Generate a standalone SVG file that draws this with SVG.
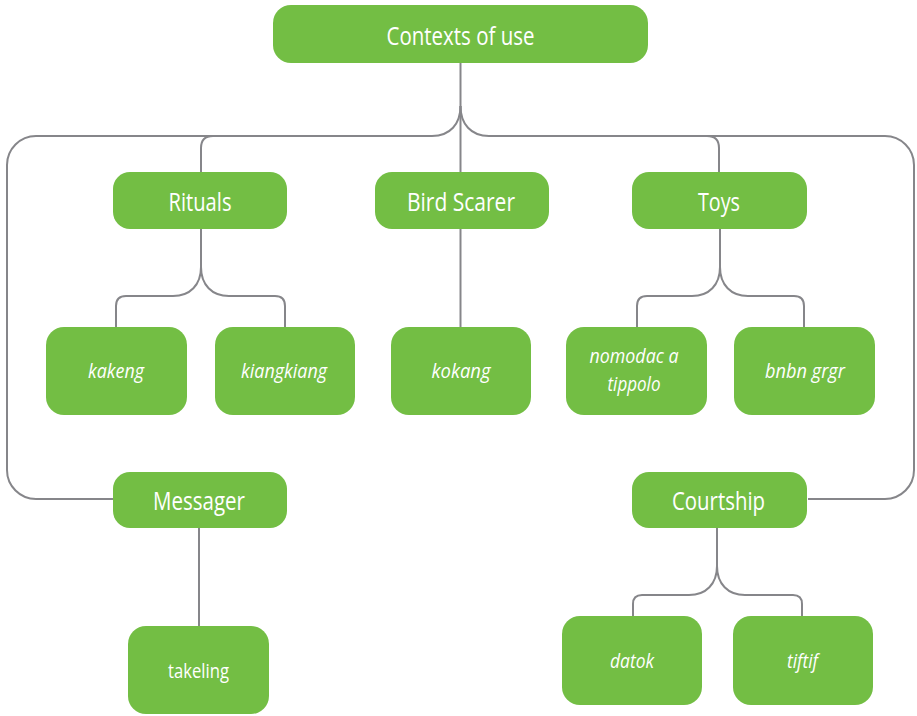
<svg xmlns="http://www.w3.org/2000/svg" width="917" height="716" viewBox="0 0 917 716">
  <style>
    .box { fill: #73BE44; }
    .lbl { fill: #ffffff; font-family: "Open Sans", "Liberation Sans", sans-serif; text-anchor: middle; }
    .main { font-size: 25.5px; }
    .leaf { font-size: 20px; font-style: italic; }
    .plain { font-size: 20px; }
    .wire { fill: none; stroke: #86868a; stroke-width: 2; }
  </style>
  <rect width="917" height="716" fill="#ffffff"/>

  <!-- connectors -->
  <g id="connectors" class="wire">
    <!-- root trunk and split -->
    <path d="M460.5,63 V172"/>
    <path d="M460.5,106 C460.5,124 450,136 432,136 H36 A29,29 0 0 0 7,165 V470 A29,29 0 0 0 36,499 H113"/>
    <path d="M460.5,106 C460.5,124 471,136 489,136 H885 A29,29 0 0 1 914,165 V470 A29,29 0 0 1 885,499 H808"/>
    <!-- branches off the main bar -->
    <path d="M213,136 Q201,136 201,148 V172"/>
    <path d="M707,136 Q719,136 719,148 V172"/>
    <!-- Rituals children -->
    <path d="M201,229 V267 C201,285 190,296 173,296 H126 Q116,296 116,306 V327"/>
    <path d="M201,267 C201,285 212,296 229,296 H275 Q285,296 285,306 V327"/>
    <!-- Bird Scarer child -->
    <path d="M460.5,229 V327"/>
    <!-- Toys children -->
    <path d="M720,229 V267 C720,285 709,296 692,296 H647 Q637,296 637,306 V327"/>
    <path d="M720,267 C720,285 731,296 748,296 H794 Q804,296 804,306 V327"/>
    <!-- Messager child -->
    <path d="M199,528 V626"/>
    <!-- Courtship children -->
    <path d="M717,528 V566 C717,584 706,595 689,595 H642 Q633,595 633,604 V616"/>
    <path d="M717,566 C717,584 728,595 745,595 H793 Q802,595 802,604 V616"/>
  </g>

  <g id="contexts">
    <rect class="box" x="273" y="5" width="375" height="58" rx="18"/>
    <text class="lbl main" x="460.5" y="45" textLength="148" lengthAdjust="spacingAndGlyphs">Contexts of use</text>
  </g>
  <g id="rituals">
    <rect class="box" x="113" y="172" width="174" height="57" rx="17"/>
    <text class="lbl main" x="200" y="210.5" textLength="63" lengthAdjust="spacingAndGlyphs">Rituals</text>
  </g>
  <g id="bird-scarer">
    <rect class="box" x="375" y="172" width="174" height="57" rx="17"/>
    <text class="lbl main" x="461" y="210.5" textLength="108" lengthAdjust="spacingAndGlyphs">Bird Scarer</text>
  </g>
  <g id="toys">
    <rect class="box" x="632" y="172" width="175" height="57" rx="17"/>
    <text class="lbl main" x="719" y="210.5" textLength="42" lengthAdjust="spacingAndGlyphs">Toys</text>
  </g>
  <g id="kakeng">
    <rect class="box" x="46" y="327" width="141" height="88" rx="18"/>
    <text class="lbl leaf" x="116" y="377.5" textLength="56" lengthAdjust="spacingAndGlyphs">kakeng</text>
  </g>
  <g id="kiangkiang">
    <rect class="box" x="215" y="327" width="140" height="88" rx="18"/>
    <text class="lbl leaf" x="284" y="377.5" textLength="86" lengthAdjust="spacingAndGlyphs">kiangkiang</text>
  </g>
  <g id="kokang">
    <rect class="box" x="391" y="327" width="140" height="88" rx="18"/>
    <text class="lbl leaf" x="461" y="377.5" textLength="59" lengthAdjust="spacingAndGlyphs">kokang</text>
  </g>
  <g id="nomodac">
    <rect class="box" x="566" y="327" width="141" height="88" rx="18"/>
    <text class="lbl leaf" x="634" y="363" textLength="89" lengthAdjust="spacingAndGlyphs">nomodac a</text>
    <text class="lbl leaf" x="634" y="391" textLength="53" lengthAdjust="spacingAndGlyphs">tippolo</text>
  </g>
  <g id="bnbn">
    <rect class="box" x="734" y="327" width="141" height="88" rx="18"/>
    <text class="lbl leaf" x="805" y="377.5" textLength="80" lengthAdjust="spacingAndGlyphs">bnbn grgr</text>
  </g>
  <g id="messager">
    <rect class="box" x="113" y="472" width="174" height="56" rx="17"/>
    <text class="lbl main" x="199" y="510" textLength="92" lengthAdjust="spacingAndGlyphs">Messager</text>
  </g>
  <g id="courtship">
    <rect class="box" x="632" y="472" width="175" height="56" rx="17"/>
    <text class="lbl main" x="718.5" y="510" textLength="93" lengthAdjust="spacingAndGlyphs">Courtship</text>
  </g>
  <g id="takeling">
    <rect class="box" x="128" y="626" width="141" height="88" rx="18"/>
    <text class="lbl plain" x="198.5" y="678" textLength="61" lengthAdjust="spacingAndGlyphs">takeling</text>
  </g>
  <g id="datok">
    <rect class="box" x="562" y="616" width="140" height="89" rx="18"/>
    <text class="lbl leaf" x="632" y="668" textLength="44" lengthAdjust="spacingAndGlyphs">datok</text>
  </g>
  <g id="tiftif">
    <rect class="box" x="733" y="616" width="140" height="89" rx="18"/>
    <text class="lbl leaf" x="802.5" y="668" textLength="31" lengthAdjust="spacingAndGlyphs">tiftif</text>
  </g>
</svg>
